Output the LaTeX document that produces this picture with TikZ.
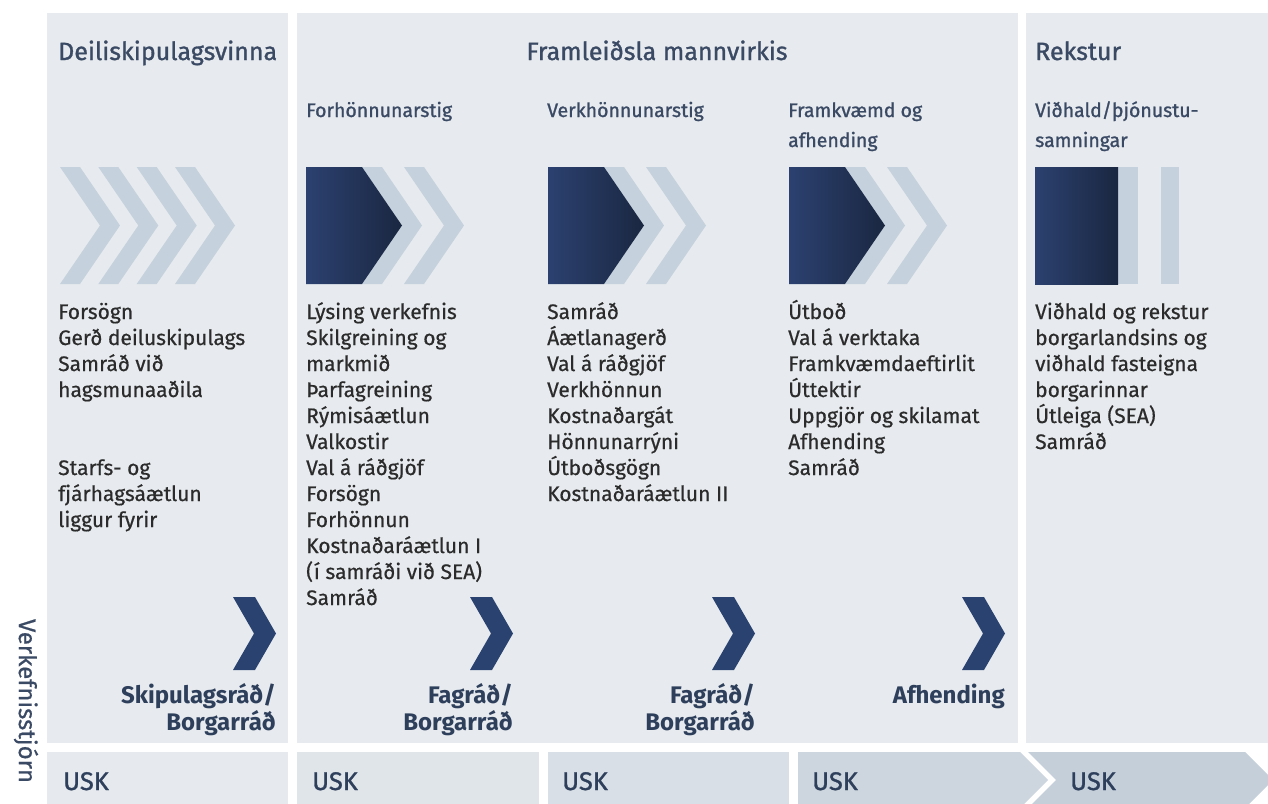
\documentclass[tikz,border=0pt]{standalone}
\usepackage{fontspec}
\setmainfont{Fira Sans}
\newfontfamily\medfont{Fira Sans}[FakeBold=1.2]
\newfontfamily\semifont{Fira Sans}[FakeBold=0.6]
\definecolor{panel}{HTML}{E7EBEF}
\definecolor{head}{HTML}{3B4A64}
\definecolor{body}{HTML}{2B2B2B}
\definecolor{lightchev}{HTML}{C5D1DC}
\definecolor{darkL}{HTML}{2C4170}
\definecolor{darkR}{HTML}{1A2741}
\definecolor{navy}{HTML}{2A4270}
\definecolor{lbl}{HTML}{2E3F5C}
\definecolor{segA}{HTML}{E6EAEE}
\definecolor{segB}{HTML}{E0E5EA}
\definecolor{segC}{HTML}{D8DFE6}
\definecolor{segD}{HTML}{CDD6DF}
\definecolor{segE}{HTML}{C4CFDA}
\tikzset{
  hdr/.style={anchor=base west, inner sep=0pt, text=head, font=\medfont\fontsize{25}{28}\selectfont},
  sub/.style={anchor=base west, inner sep=0pt, text=head, font=\medfont\fontsize{19.5}{30}\selectfont},
  txt/.style={anchor=base west, inner sep=0pt, text=body, font=\semifont\fontsize{21}{26}\selectfont},
  lab/.style={anchor=base east, inner sep=0pt, text=lbl, font=\bfseries\fontsize{24}{27}\selectfont},
  usk/.style={anchor=base west, inner sep=0pt, text=lbl, font=\medfont\fontsize{25.5}{28}\selectfont},
  lchev/.style={fill=lightchev},
  nchev/.style={fill=navy},
}
\begin{document}
\begin{tikzpicture}[x=1pt,y=-1pt]
\clip (0,0) rectangle (1268,803);
\fill[white] (0,0) rectangle (1268,803);
% panels
\fill[panel] (47,13) rectangle (288,743);
\fill[panel] (297,13) rectangle (1018,743);
\fill[panel] (1026,13) rectangle (1268,743);
% bottom row
\fill[segA] (47,752) rectangle (288,808);
\fill[segB] (297,752) rectangle (539,808);
\fill[segC] (548,752) rectangle (789,808);
\fill[segD] (798,752) -- (1020,752) -- (1048,780) -- (1020,808) -- (798,808) -- cycle;
\fill[segE] (1028,752) -- (1245,752) -- (1273,780) -- (1245,808) -- (1028,808) -- (1056,780) -- cycle;
% big chevrons panel 1
\foreach \x in {60,98.3,136.7,175}
  \fill[lchev] (\x,167) -- (\x+20,167) -- (\x+60,225.5) -- (\x+20,284) -- (\x,284) -- (\x+40,225.5) -- cycle;
% dark blocks with light chevrons
\foreach \X in {306,548,789}{
  \foreach \d in {56,98}
    \fill[lchev] (\X+\d,167) -- (\X+\d+20,167) -- (\X+\d+60,225.5) -- (\X+\d+20,284) -- (\X+\d,284) -- (\X+\d+40,225.5) -- cycle;
  \shade[left color=darkL, right color=darkR] (\X,167) -- (\X+56,167) -- (\X+96,225.5) -- (\X+56,284) -- (\X,284) -- cycle;
}
% Rekstur bars
\fill[lightchev] (1118,167) rectangle (1138,284);
\fill[lightchev] (1161,167) rectangle (1179,284);
\shade[left color=darkL, right color=darkR] (1035,167) rectangle (1118,284);
% small navy chevrons
\foreach \R in {276,513,755,1005}
  \fill[nchev] (\R-43,597) -- (\R-21,597) -- (\R,633.5) -- (\R-21,670) -- (\R-43,670) -- (\R-22,633.5) -- cycle;
% headers
\node[hdr] (h1) at (58,60) {Deiliskipulagsvinna};
\node[hdr, anchor=base] (h2) at (657,60) {Framleiðsla mannvirkis};
\node[hdr] (h3) at (1035,60) {Rekstur};
\node[sub] (s1) at (306,117) {Forhönnunarstig};
\node[sub] (s2) at (547,117) {Verkhönnunarstig};
\node[sub] (s3a) at (788,117) {Framkvæmd og};
\node[sub] (s3b) at (788,147) {afhending};
\node[sub] (s4a) at (1035,117) {Viðhald/þjónustu-};
\node[sub] (s4b) at (1035,147) {samningar};
% body text
\foreach \t [count=\i] in {Forsögn,Gerð deiluskipulags,Samráð við,hagsmunaaðila,,,Starfs- og,fjárhagsáætlun,liggur fyrir}
  \node[txt] (a\i) at (58,{319+26*(\i-1)}) {\t};
\foreach \t [count=\i] in {Lýsing verkefnis,Skilgreining og,markmið,Þarfagreining,Rýmisáætlun,Valkostir,Val á ráðgjöf,Forsögn,Forhönnun,Kostnaðaráætlun I,(í samráði við SEA),Samráð}
  \node[txt] (b\i) at (306,{319+26*(\i-1)}) {\t};
\foreach \t [count=\i] in {Samráð,Áætlanagerð,Val á ráðgjöf,Verkhönnun,Kostnaðargát,Hönnunarrýni,Útboðsgögn,Kostnaðaráætlun II}
  \node[txt] (c\i) at (547,{319+26*(\i-1)}) {\t};
\foreach \t [count=\i] in {Útboð,Val á verktaka,Framkvæmdaeftirlit,Úttektir,Uppgjör og skilamat,Afhending,Samráð}
  \node[txt] (d\i) at (788,{319+26*(\i-1)}) {\t};
\foreach \t [count=\i] in {Viðhald og rekstur,borgarlandsins og,viðhald fasteigna,borgarinnar,Útleiga (SEA),Samráð}
  \node[txt] (e\i) at (1035,{319+26*(\i-1)}) {\t};
% decision labels
\node[lab] (l1a) at (276,703) {Skipulagsráð/};
\node[lab] (l1b) at (276,730) {Borgarráð};
\node[lab] (l2a) at (513,703) {Fagráð/};
\node[lab] (l2b) at (513,730) {Borgarráð};
\node[lab] (l3a) at (755,703) {Fagráð/};
\node[lab] (l3b) at (755,730) {Borgarráð};
\node[lab] (l4) at (1005,703) {Afhending};
% USK
\node[usk] (u1) at (63,790) {USK};
\node[usk] (u2) at (312,790) {USK};
\node[usk] (u3) at (562,790) {USK};
\node[usk] (u4) at (812,790) {USK};
\node[usk] (u5) at (1070,790) {USK};
% vertical label
\node[rotate=-90, inner sep=0pt, text=head, font=\semifont\fontsize{24}{26}\selectfont] (vk) at (26,701) {Verkefnisstjórn};
\end{tikzpicture}
\end{document}
